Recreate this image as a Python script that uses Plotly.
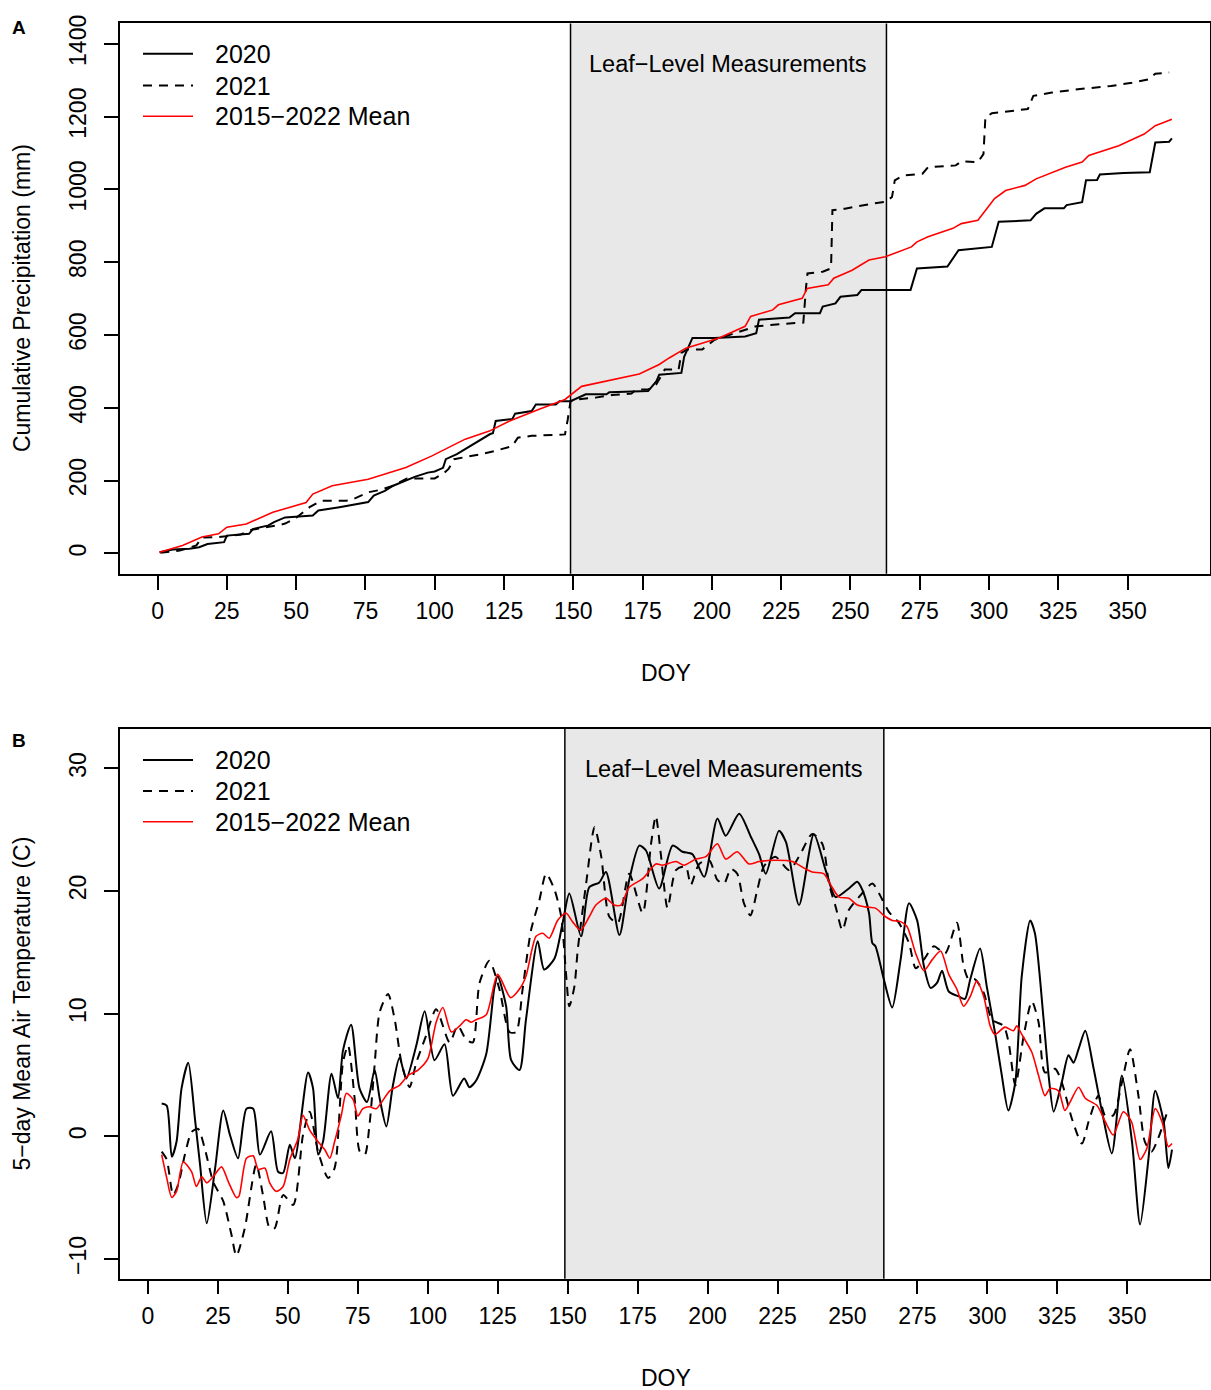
import plotly.graph_objects as go

# ---------------- Panel A: cumulative precipitation (mm) ----------------
p2020_doy = [0.7, 5.5, 11.5, 15, 18, 24, 25, 33, 34.4, 40, 42, 46, 56, 58, 65.6, 76, 78, 82, 85, 89.6, 93, 97.5,
             100, 103, 104, 108, 115, 120, 121, 122, 128, 129, 135, 136.5, 143.7, 145, 149, 154.5, 162, 163, 177,
             180, 181, 189, 190, 193, 201, 212, 216, 217, 228, 230, 239, 240, 244.6, 246.4, 252.5, 254, 271.7,
             274, 285, 289, 301, 303.5, 315, 317, 320, 327, 328, 333.6, 335, 339, 340, 348.5, 358, 360, 365, 366]
p2020_val = [3, 11, 13, 17, 26, 31, 49, 54, 67, 77, 86, 99, 104, 118, 127, 141, 159, 172, 186, 200, 211, 222,
             225, 235, 259, 273, 305, 328, 330, 364, 369, 384, 391, 409, 409, 418, 418, 437, 437, 443, 446,
             473, 491, 496, 540, 592, 592, 596, 605, 642, 648, 660, 660, 678, 687, 705, 710, 724, 724,
             783, 788, 833, 842, 911, 915, 933, 948, 948, 957, 965, 1025, 1026, 1041, 1045, 1047, 1129, 1131, 1140]

p2021_doy = [1, 8, 14, 16, 22, 30, 34, 40, 44, 46, 50, 55, 59, 68, 70, 76, 80, 85, 88, 90, 100, 103.5, 105, 107,
             117, 122, 128, 130, 135, 147, 148, 149, 151, 158, 164, 171, 172.5, 177, 180, 183, 188, 189, 191,
             196.5, 201, 212, 216, 230, 233, 234, 234.5, 240, 243, 243.5, 248, 258, 262.6, 265, 266, 269, 276,
             278, 288, 290, 296, 298, 298.7, 301, 314, 316, 322.7, 332, 344, 351.6, 357.6, 360, 365]
p2021_val = [2, 8, 22, 44, 45, 52, 65, 72, 78, 82, 98, 128, 145, 145, 147, 168, 174, 186, 198, 206, 206, 222, 232, 259,
             273, 282, 295, 318, 323, 327, 368, 418, 423, 428, 435, 439, 450, 450, 465, 505, 505, 551, 560,
             560, 587, 615, 624, 633, 634, 733, 769, 774, 783, 943, 947, 961, 966, 979, 1025, 1038, 1043,
             1061, 1066, 1077, 1075, 1097, 1198, 1209, 1221, 1257, 1266, 1275, 1284, 1293, 1302, 1318, 1321]

pmean_doy = [0.7, 9, 16, 22, 25, 32, 41.6, 47.6, 53.6, 56, 63, 76, 89.6, 99, 111, 119.7, 127, 137.7, 147, 153,
             164, 173.8, 181, 184.6, 190.6, 202.6, 212, 214, 222, 224, 232.6, 234.4, 242, 244, 250.6, 256.7,
             262.6, 267.5, 272, 274, 278, 287, 290, 296, 302, 306, 313, 317, 327.6, 333.6, 336, 346.8, 356, 360, 366]
pmean_val = [3, 22, 45, 54, 72, 81, 113, 127, 140, 163, 186, 204, 236, 268, 314, 336, 364, 396, 423, 459,
             478, 493, 519, 537, 564, 592, 624, 651, 669, 683, 701, 728, 738, 756, 778, 806,
             815, 830, 842, 856, 870, 893, 906, 915, 975, 997, 1011, 1029, 1061, 1075, 1093, 1120, 1152, 1175, 1193]

# ---------------- Panel B: 5-day mean air temperature (C) ----------------
t2020_doy = [4.9, 6.7, 8.5, 10.2, 12, 14.4, 16.8, 18.6, 21, 24, 26.9, 29.3, 32.2, 35.2, 37.6, 40, 44, 46.5, 48.3,
             50.7, 52.5, 57.2, 59, 60.8, 62.6, 65.6, 67.9, 69.7, 72.6, 75.6, 78.3, 81, 82.8, 85.2, 87.5, 89.9,
             92.3, 95.9, 98.9, 102.4, 106, 109, 113, 114.9, 117.3, 120.9, 123.8, 125, 128, 129.8, 132.8, 135.1,
             139.3, 141.6, 145.3, 148.2, 150.6, 154.8, 157.7, 161.3, 163.7, 168.5, 172, 175.6, 178, 182.7, 187.5,
             191, 194.6, 198.8, 203.5, 206.5, 211.3, 215.5, 218.4, 220.8, 225.5, 228, 232.7, 238, 242.2, 245.8,
             250.5, 253.5, 255.3, 257.7, 258.9, 260, 263, 266, 269, 272, 274.9, 277.3, 279.7, 282, 283.8, 286.2,
             289.8, 292, 293.9, 297.4, 299.8, 302.7, 305, 307.5, 310, 312.3, 315.3, 317, 320, 321.9, 323.7,
             326.6, 329, 330.8, 332.6, 335, 338, 341, 344.5, 348.1, 351.7, 354.6, 357.6, 360, 363, 364.7, 366]
t2020_val = [2.66, 2.5, -1.66, -0.45, 3.9, 6.0, 1.4, -2.3, -7.1, -2.6, 2.1, 0.1, -1.8, 2.25, 2.25, -1.5, 0.4, -2.9, -3.0,
             -0.7, -1.8, 5.2, 3.9, -1.5, -0.4, 5.1, 3.1, 7.0, 9.1, 3.9, 2.8, 5.4, 3.1, 0.8, 4.1, 6.4,
             4.7, 7.4, 10.2, 6.2, 7.5, 3.3, 4.7, 4.0, 4.55, 6.7, 12.1, 13.05, 10.6, 6.2, 5.4, 9.5,
             15.9, 13.6, 14.5, 17.4, 19.8, 16.3, 20.3, 20.7, 21.55, 16.4, 20.9, 23.7, 23.3, 20.2, 23.7,
             23.2, 23.0, 21.15, 25.9, 24.5, 26.3, 24.4, 23.0, 21.4, 24.9, 24.0, 18.85, 24.65, 21.7, 19.5,
             20.2, 20.75, 20.1, 18.2, 15.75, 15.5, 12.8, 10.5, 14.4, 19.0, 17.6, 13.9, 12.1, 12.5, 13.5, 11.8,
             11.4, 11.2, 12.8, 15.3, 12.2, 8.5, 5.2, 2.1, 4.4, 13.05, 17.6, 16.55, 9.8, 4.95, 2.0,
             4.4, 6.6, 6.0, 7.1, 8.6, 5.5, 2.0, -1.4, 4.95, -0.45, -7.2, -1.8, 3.7, 1.2, -2.6, -1.1]

t2021_doy = [4.9, 6.7, 9, 10.8, 13.2, 15.6, 17.9, 20.3, 23.3, 26.9, 29.8, 31.6, 34.6, 38.7, 41.1, 43.5, 45.3, 48.3,
             51.9, 55.4, 57.8, 60.8, 64.4, 66.7, 69.7, 71.5, 73.9, 75.7, 77.5, 79.2, 81, 82.8, 85.8, 88.2, 90.6,
             93.5, 95.9, 99.4, 103, 107.8, 110.7, 113.7, 116.1, 118.5, 122, 125.6, 129.2, 131.6, 133.9, 136.9,
             139.9, 142.3, 145.3, 147.7, 149.4, 150.6, 152.4, 153.6, 156.6, 159.6, 162, 164.9, 167.9, 172, 176.8,
             179.8, 181.5, 183.3, 185.7, 188.7, 192.2, 194, 197, 200.6, 203.5, 205.9, 208.3, 210.6, 213, 215.3,
             217.8, 220.1, 224.2, 229.1, 232.7, 237.4, 241, 243.4, 245.8, 248.2, 250.5, 254.1, 258.9, 261.3,
             264.8, 268.4, 272, 274.4, 277.3, 280.9, 284.9, 289.1, 291.5, 293.3, 295.6, 298.7, 301.7, 305.8,
             307.6, 310, 313, 315.9, 318.3, 320.6, 324.2, 326.6, 330.2, 333.8, 336.2, 339.7, 342.1, 345, 348.1,
             351, 354, 356.3, 358.7, 361, 364.7]
t2021_val = [-1.25, -1.9, -4.8, -3.95, -1.5, 0.35, 0.6, -1.0, -3.7, -5.3, -8.0, -9.75, -7.5, -2.3, -4.8, -7.5, -7.5, -4.8,
             -5.6, 0.1, 2.0, -1.25, -3.4, -2.6, 6.0, 7.4, 3.0, -1.25, -1.5, 1.0, 5.8, 10.1, 11.6, 9.5, 6.0,
             4.0, 6.0, 8.2, 10.35, 7.65, 9.0, 7.9, 7.65, 12.5, 14.3, 12.0, 8.5, 8.5, 12.0, 16.8,
             19.25, 21.4, 20.1, 17.9, 13.3, 10.6, 12.2, 15.2, 20.6, 25.2, 22.8, 17.9, 17.4, 21.4, 18.2,
             23.85, 26.1, 23.0, 18.6, 21.7, 22.0, 20.5, 22.2, 22.5, 20.9, 20.6, 21.8, 21.4, 19.0, 18.0,
             20.1, 22.0, 22.8, 21.7, 22.8, 24.65, 23.85, 20.6, 18.7, 16.8, 18.45, 19.5, 20.6, 19.8,
             18.3, 17.4, 15.75, 13.7, 14.4, 15.5, 14.9, 17.4, 13.9, 12.8, 12.8, 11.7, 9.5, 9.0,
             7.65, 4.15, 8.2, 11.0, 9.3, 5.2, 5.5, 4.4, 1.45, -0.6, 1.2, 3.3, 1.7, 1.7, 4.4,
             7.1, 3.3, -0.45, -1.25, -0.2, 2.25]

tmean_doy = [4.9, 6.7, 8.5, 10.2, 12.6, 15.6, 17.3, 19.2, 21, 23.3, 26.3, 28.7, 31.6, 32.5, 35.2, 37.6, 39.4, 41.8,
             43.5, 45.9, 48.3, 50.7, 53.6, 55.4, 57.8, 60.8, 63.2, 65, 66.7, 69.1, 70.9, 73.3, 75, 76.8, 79.2,
             81.6, 86.4, 89.9, 92.9, 96.5, 100, 103, 105.4, 108.4, 111.4, 113.7, 115.5, 117.3, 120.9, 125, 129.6,
             132.8, 135.1, 138.7, 141.1, 143.4, 146.4, 149.4, 151.7, 154.6, 157.7, 160.1, 163.7, 166.6, 169, 172,
             176.8, 181.5, 183.9, 188.7, 191.6, 195.8, 199.4, 203.5, 206.5, 210.6, 214.8, 218.4, 224.2, 230.3,
             235, 237.4, 241.6, 244.5, 247, 250.5, 253.5, 256.4, 260, 263, 266, 269, 271.3, 274.4, 277.3, 280.3,
             283.3, 286.2, 289.1, 291.5, 293.9, 296.2, 298.7, 301, 302.7, 306.3, 309.3, 310.5, 312.3, 315.9,
             318.3, 320.6, 322.4, 325.4, 327.7, 329.6, 332.6, 335, 339.2, 342.1, 345, 348.6, 351.5, 354.6, 357,
             360, 362.4, 364.7, 366]
tmean_val = [-1.5, -3.4, -5.0, -4.5, -2.1, -2.9, -4.1, -3.3, -3.8, -3.3, -2.5, -3.7, -5.0, -4.9, -1.8, -1.6, -2.7, -2.6,
             -3.8, -4.5, -4.1, -1.9, -0.2, 1.7, 0.5, -0.45, -1.1, -1.8, -0.45, 1.7, 3.5, 3.0, 1.65, 2.25, 2.4,
             2.25, 3.7, 4.15, 4.95, 5.4, 6.3, 9.3, 10.5, 8.5, 9.0, 9.5, 9.3, 9.5, 9.9, 13.2, 11.3,
             12.0, 13.05, 16.3, 16.55, 16.15, 17.6, 18.2, 17.5, 16.8, 17.9, 18.85, 19.4, 18.85, 18.85, 20.3,
             21.0, 22.2, 22.1, 22.4, 22.1, 22.6, 22.8, 23.85, 22.6, 23.2, 22.2, 22.4, 22.5, 22.4,
             21.8, 21.55, 21.4, 20.3, 19.5, 19.4, 18.85, 18.7, 18.6, 18.0, 17.6, 17.5, 17.1, 14.9, 13.5, 14.4,
             15.1, 13.2, 12.0, 10.6, 11.4, 12.65, 11.4, 9.0, 8.3, 8.9, 8.6, 9.0, 8.3, 6.85,
             4.95, 3.3, 3.9, 3.7, 2.1, 2.8, 4.0, 3.1, 2.5, 1.2, 0.1, 2.0, 1.2, -1.9, -1.0,
             2.25, 1.2, -0.85, -0.6]

measure_window = [149, 263]
series_names = ["2020", "2021", "2015\u22122022 Mean"]
x_ticks = list(range(0, 351, 25))
yA_ticks = list(range(0, 1401, 200))
yB_ticks = [-10, 0, 10, 20, 30]

W, H = 1211, 1390
FONT = "Liberation Sans, Arial, Helvetica, sans-serif"


def px_x(p):
    return p / W


def px_y(p):
    return 1 - p / H


fig = go.Figure()

styles = [dict(color="black", width=2),
          dict(color="black", width=2, dash="9px,7px"),
          dict(color="#FF0000", width=1.6)]

for name, xs, ys, st in zip(series_names, [p2020_doy, p2021_doy, pmean_doy],
                             [p2020_val, p2021_val, pmean_val], styles):
    fig.add_trace(go.Scatter(x=xs, y=ys, mode="lines", name=name, line=st,
                             xaxis="x", yaxis="y", showlegend=False))

for name, xs, ys, st in zip(series_names, [t2020_doy, t2021_doy, tmean_doy],
                             [t2020_val, t2021_val, tmean_val], styles):
    fig.add_trace(go.Scatter(x=xs, y=ys, mode="lines", name=name,
                             line=dict(st, shape="spline", smoothing=0.7),
                             xaxis="x2", yaxis="y2", showlegend=False))

axis_common = dict(showline=True, mirror=True, linecolor="black", linewidth=1.5,
                   ticks="outside", ticklen=14, tickwidth=1.5, tickcolor="black",
                   showgrid=False, zeroline=False,
                   tickfont=dict(family=FONT, size=23, color="black"))

fig.update_layout(
    width=W, height=H, margin=dict(l=0, r=0, t=0, b=0),
    paper_bgcolor="white", plot_bgcolor="white",
    font=dict(family=FONT, color="black"),
    showlegend=False,
    xaxis=dict(domain=[px_x(120), px_x(1209.5)], anchor="y", range=[-13.56, 379.56],
               tickvals=x_ticks, ticklabelstandoff=2, **axis_common),
    yaxis=dict(domain=[px_y(568.5), px_y(14.5)], anchor="x", range=[-56, 1456],
               tickvals=yA_ticks, tickangle=-90, ticklabelstandoff=9, **axis_common),
    xaxis2=dict(domain=[px_x(120), px_x(1209.5)], anchor="y2", range=[-10.0, 379.4],
                tickvals=x_ticks, ticklabelstandoff=2, **axis_common),
    yaxis2=dict(domain=[px_y(1278), px_y(724.3)], anchor="x2", range=[-11.62, 33.24],
                tickvals=yB_ticks, tickangle=-90, ticklabelstandoff=9, **axis_common),
)

shapes = []
for xr, yr in [("x", "y domain"), ("x2", "y2 domain")]:
    shapes.append(dict(type="rect", xref=xr, yref=yr, x0=measure_window[0], x1=measure_window[1],
                       y0=0, y1=1, fillcolor="#E8E8E8", line=dict(width=0), layer="below"))
    for xv in measure_window:
        shapes.append(dict(type="line", xref=xr, yref=yr, x0=xv, x1=xv, y0=0, y1=1,
                           line=dict(color="black", width=1.5), layer="below"))

ann = []


def add_text(text, x, y, size, angle=0, xanchor="center", bold=False, xref="paper", yref="paper"):
    ann.append(dict(text=("<b>%s</b>" % text) if bold else text, x=x, y=y, xref=xref, yref=yref,
                    xanchor=xanchor, yanchor="middle", textangle=angle, showarrow=False,
                    font=dict(family=FONT, size=size, color="black")))


# legends (line sample + label) for both panels
for top_rows in ([45, 77, 108], [756, 787, 818]):
    for name, st, yrow in zip(series_names, styles, top_rows):
        shapes.append(dict(type="line", xref="paper", yref="paper",
                           x0=px_x(143), x1=px_x(193), y0=px_y(yrow), y1=px_y(yrow),
                           line=st))
        add_text(name, px_x(213), px_y(yrow), 25, xanchor="left")

mid = (measure_window[0] + measure_window[1]) / 2
add_text("Leaf\u2212Level Measurements", mid, 1 - 41 / 554, 23.5, xref="x", yref="y domain")
add_text("Leaf\u2212Level Measurements", mid, 1 - 41 / 554, 23.5, xref="x2", yref="y2 domain")
add_text("A", px_x(19), px_y(19), 19, bold=True)
add_text("B", px_x(19), px_y(736), 19, bold=True)
add_text("Cumulative Precipitation (mm)", px_x(22), px_y(291), 23, angle=-90)
add_text("5\u2212day Mean Air Temperature (C)", px_x(22), px_y(1001), 23, angle=-90)
add_text("DOY", px_x(666), px_y(668), 23)
add_text("DOY", px_x(666), px_y(1378), 23)

fig.update_layout(shapes=shapes, annotations=ann)

# pin the figure to the page's top-left corner (no body margin / stray line boxes)
pin_js = ("document.documentElement.style.margin='0';document.body.style.margin='0';"
          "document.body.style.padding='0';"
          "var g=document.getElementById('{plot_id}');"
          "g.style.position='absolute';g.style.left='0px';g.style.top='0px';")

fig.write_html("out.html", post_script=pin_js)
